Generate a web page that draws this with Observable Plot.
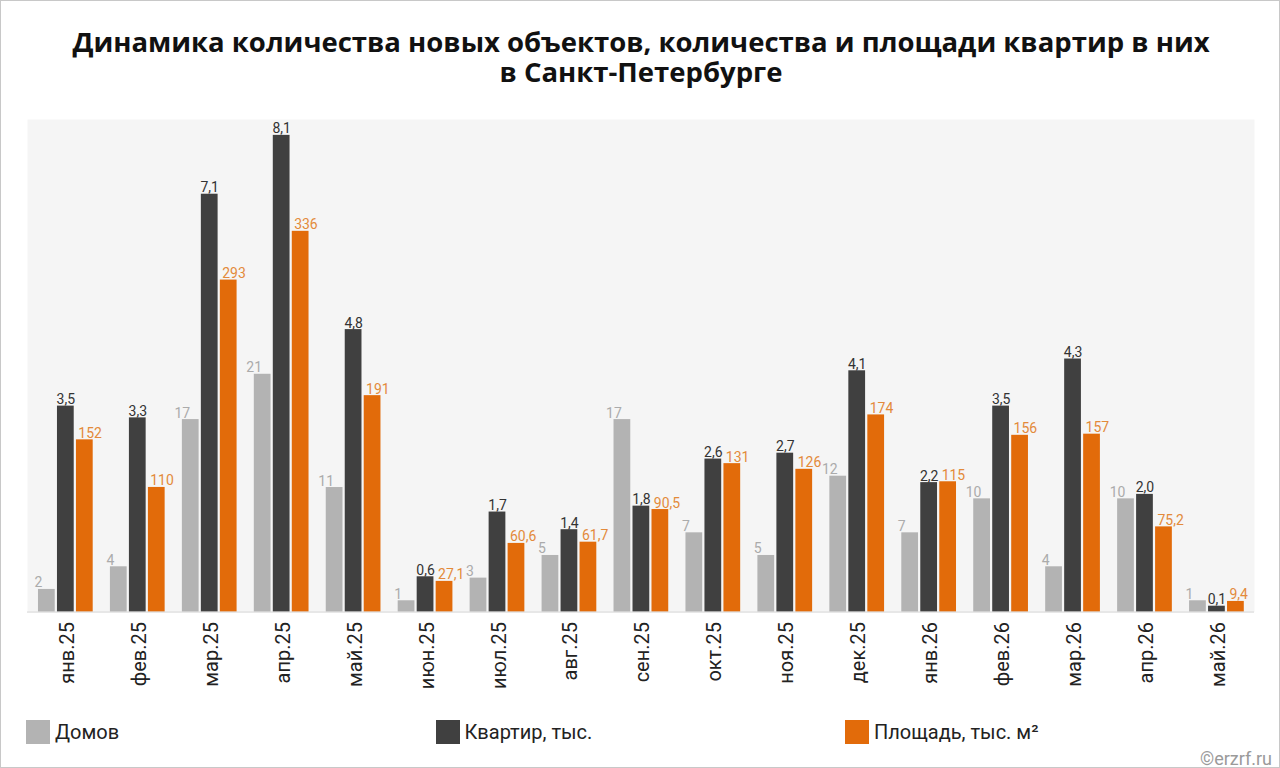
<!DOCTYPE html>
<html>
<head>
<meta charset="utf-8">
<script src="https://cdn.jsdelivr.net/npm/d3@7"></script>
<script src="https://cdn.jsdelivr.net/npm/@observablehq/plot@0.6"></script>
<style>
  html, body { margin: 0; padding: 0; background: #fff; }
  #page { position: relative; width: 1280px; height: 768px; box-sizing: border-box; border: 1px solid #c8c8c8; overflow: hidden; font-family: Roboto, "Noto Sans", sans-serif; }
  .title { position: absolute; left: 0; width: 1280px; text-align: center; font-family: "Open Sans", Roboto, sans-serif; font-weight: 700; font-size: 27.5px; line-height: 30px; height: 30px; color: #111; white-space: nowrap; }
  #chart { position: absolute; left: -1px; top: 99px; }
  #legend { position: absolute; left: 25px; top: 719px; display: flex; }
  .item { width: 409.5px; display: flex; align-items: center; font-size: 20px; color: #222; }
  .sw { width: 24px; height: 24px; margin-right: 5px; }
  #wm { position: absolute; right: 7px; top: 749px; font-size: 18px; line-height: 1; color: #9a9a9a; }
</style>
</head>
<body>
<div id="page">
  <div class="title" style="top:26px">Динамика количества новых объектов, количества и площади квартир в них</div>
  <div class="title" style="top:56px">в Санкт-Петербурге</div>
  <div id="chart"></div>
  <div id="legend"></div>
  <div id="wm">©erzrf.ru</div>
</div>
<script>
const months = ["янв.25","фев.25","мар.25","апр.25","май.25","июн.25","июл.25","авг.25","сен.25","окт.25","ноя.25","дек.25","янв.26","фев.26","мар.26","апр.26","май.26"];
const houses = [2,4,17,21,11,1,3,5,17,7,5,12,7,10,4,10,1];
const flats = [3.5,3.3,7.1,8.1,4.8,0.6,1.7,1.4,1.8,2.6,2.7,4.1,2.2,3.5,4.3,2.0,0.1];
const area = [152,110,293,336,191,27.1,60.6,61.7,90.5,131,126,174,115,156,157,75.2,9.4];
const seriesNames = ["Домов","Квартир, тыс.","Площадь, тыс. м²"];
// each series is drawn against its own value axis maximum
const seriesAxisMax = [43.5, 8.37, 434.7];
const barColors = ["#b3b3b3","#404040","#e26b0a"];
const labelColors = ["#ababab","#333333","#e38a3a"];

const fmt = [
  v => String(v),
  v => v.toFixed(1).replace(".", ","),
  v => (v < 100 ? v.toFixed(1) : v.toFixed(0)).replace(".", ",")
];
const seriesValues = [houses, flats, area];
const rows = seriesValues.map((vals, s) => months.map((m, i) => ({
  month: m, series: s, value: vals[i], norm: vals[i] / seriesAxisMax[s], label: fmt[s](vals[i])
})));

const W = 1280, H = 610, ML = 27, MR = 25, MT = 19, MB = 98;
const bw = (W - ML - MR) / months.length;
const barW = 17, gap = 2, lead = 9;
const offs = [lead, lead + barW + gap, lead + 2 * (barW + gap)];

const marks = [Plot.frame({fill: "#f5f5f5", stroke: null})];
rows.forEach((data, s) => {
  marks.push(Plot.barY(data, {
    x: "month", y: "norm", fill: barColors[s],
    insetLeft: offs[s], insetRight: bw - offs[s] - barW
  }));
});
marks.push(Plot.ruleY([0], {stroke: "#d6d6d6", strokeWidth: 1}));
// labels: grey centered on bar's left edge, dark centered, orange starting at bar's left
marks.push(Plot.text(rows[0], {x: "month", y: "norm", text: "label", fill: labelColors[0], fontSize: 14, lineAnchor: "bottom", dy: -2, dx: offs[0] - bw / 2}));
marks.push(Plot.text(rows[1], {x: "month", y: "norm", text: "label", fill: labelColors[1], fontSize: 14, lineAnchor: "bottom", dy: -2, dx: offs[1] + barW / 2 - bw / 2}));
marks.push(Plot.text(rows[2], {x: "month", y: "norm", text: "label", fill: labelColors[2], fontSize: 14, lineAnchor: "bottom", dy: -2, textAnchor: "start", dx: offs[2] + 2 - bw / 2}));
marks.push(Plot.axisX({tickRotate: -90, tickSize: 0, tickPadding: 10, fontSize: 20, label: null, fill: "#222", dx: 2}));

const plot = Plot.plot({
  width: W, height: H,
  marginLeft: ML, marginRight: MR, marginTop: MT, marginBottom: MB,
  x: {domain: months, padding: 0, label: null},
  y: {domain: [0, 1], axis: null},
  style: {fontFamily: "Roboto, 'Noto Sans', sans-serif", background: "transparent", overflow: "visible"},
  marks
});
document.getElementById("chart").appendChild(plot);

const legend = document.getElementById("legend");
seriesNames.forEach((n, s) => {
  const it = document.createElement("div");
  it.className = "item";
  it.innerHTML = `<div class="sw" style="background:${barColors[s]}"></div><span>${n}</span>`;
  legend.appendChild(it);
});
</script>
</body>
</html>
